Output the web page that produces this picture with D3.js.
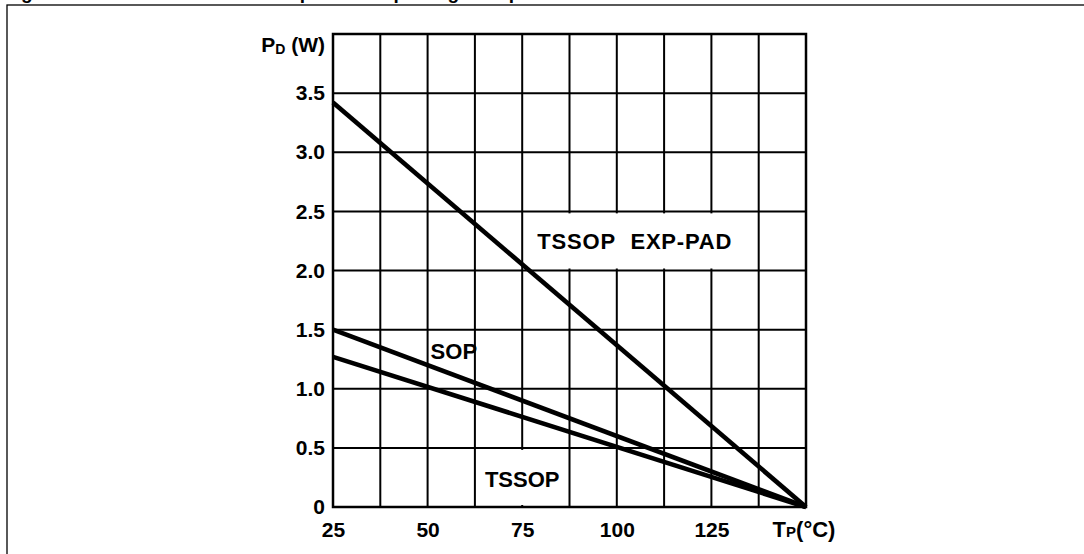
<!DOCTYPE html>
<html>
<head>
<meta charset="utf-8">
<script src="https://cdn.jsdelivr.net/npm/d3@7"></script>
<style>
  body { margin: 0; background: #fff; }
  svg { display: block; font-family: "Liberation Sans", Arial, sans-serif; font-weight: bold; }
</style>
</head>
<body>
<svg id="chart" width="1084" height="554"></svg>
<script>
// data
const tempC = [25, 150];
const expPadW = [3.42, 0];
const sopW = [1.5, 0];
const tssopW = [1.27, 0];
const xTicks = [25, 50, 75, 100, 125];
const yTicks = [0, 0.5, 1.0, 1.5, 2.0, 2.5, 3.0, 3.5];
const seriesNames = ['TSSOP EXP-PAD', 'SOP', 'TSSOP'];

const svg = d3.select('#chart');

const x = d3.scaleLinear().domain([25, 150]).range([333, 806]);
const y = d3.scaleLinear().domain([0, 4]).range([507, 34]);

// outer frame (runs off the right and bottom edge)
svg.append('rect')
    .attr('x', 7).attr('y', 5)
    .attr('width', 1100).attr('height', 600)
    .attr('fill', 'none')
    .attr('stroke', '#000')
    .attr('stroke-width', 1.3);

// cut-off title, only descenders show
svg.append('text')
    .attr('x', 4).attr('y', -1)
    .attr('font-size', 19)
    .text('Figure 6. Maximum allowed dissipation vs. package temperature');

// grid
const grid = svg.append('g');
d3.range(25, 150.1, 12.5).forEach(v => {
    grid.append('line')
        .attr('x1', x(v)).attr('x2', x(v))
        .attr('y1', y(0)).attr('y2', y(4))
        .attr('stroke', '#000').attr('stroke-width', 2);
});
d3.range(0, 4.01, 0.5).forEach(v => {
    grid.append('line')
        .attr('x1', x(25)).attr('x2', x(150))
        .attr('y1', y(v)).attr('y2', y(v))
        .attr('stroke', '#000').attr('stroke-width', 2);
});

const maskLayer = svg.append('g');

// plot border
svg.append('rect')
    .attr('x', x(25)).attr('y', y(4))
    .attr('width', x(150) - x(25)).attr('height', y(0) - y(4))
    .attr('fill', 'none')
    .attr('stroke', '#000').attr('stroke-width', 2.5);

// derating lines
const line = d3.line().x(d => x(d[0])).y(d => y(d[1]));
[expPadW, sopW, tssopW].forEach(vals => {
    svg.append('path')
        .datum(tempC.map((t, i) => [t, vals[i]]))
        .attr('d', line)
        .attr('fill', 'none')
        .attr('stroke', '#000')
        .attr('stroke-width', 4.6);
});

// axes
const xAxis = svg.append('g')
    .attr('transform', `translate(0,${y(0)})`)
    .call(d3.axisBottom(x).tickValues(xTicks).tickSize(0).tickPadding(15));
const yAxis = svg.append('g')
    .attr('transform', `translate(${x(25)},0)`)
    .call(d3.axisLeft(y).tickValues(yTicks).tickSize(0).tickPadding(8)
        .tickFormat(v => v === 0 ? '0' : d3.format('.1f')(v)));
[xAxis, yAxis].forEach(a => {
    a.select('.domain').remove();
    a.selectAll('text')
        .attr('font-size', 21)
        .attr('font-family', '"Liberation Sans", Arial, sans-serif')
        .attr('font-weight', 'bold')
        .attr('fill', '#000');
});

// axis titles
const yTitle = svg.append('text')
    .attr('x', x(25) - 8).attr('y', y(4) + 18)
    .attr('text-anchor', 'end')
    .attr('font-size', 21);
yTitle.append('tspan').text('P');
yTitle.append('tspan').attr('font-size', 14).attr('dy', 2).text('D');
yTitle.append('tspan').attr('dy', -2).text(' (W)');

const xTitle = svg.append('text')
    .attr('x', x(150) - 2).attr('y', y(0) + 30)
    .attr('text-anchor', 'middle')
    .attr('font-size', 22);
xTitle.append('tspan').text('T');
xTitle.append('tspan').attr('font-size', 15).text('P');
xTitle.append('tspan').text('(°C)');

// series labels, grid hidden behind the two boxed ones
function boxBehind(label, v0, v1) {
    const b = label.node().getBBox();
    maskLayer.append('rect')
        .attr('x', b.x - 4).attr('y', y(v1) + 2)
        .attr('width', b.width + 8).attr('height', y(v0) - y(v1) - 4)
        .attr('fill', '#fff');
}

const expLabel = svg.append('text')
    .attr('x', x(79)).attr('y', y(2.25) + 8)
    .attr('font-size', 22)
    .attr('letter-spacing', 0.8)
    .attr('word-spacing', 8)
    .text(seriesNames[0]);
boxBehind(expLabel, 2.0, 2.5);

svg.append('text')
    .attr('x', x(50) + 3).attr('y', y(1.5) + 29)
    .attr('font-size', 22)
    .text(seriesNames[1]);

const tssopLabel = svg.append('text')
    .attr('x', x(75)).attr('y', y(0.24) + 8)
    .attr('text-anchor', 'middle')
    .attr('font-size', 22)
    .text(seriesNames[2]);
boxBehind(tssopLabel, 0, 0.5);
</script>
</body>
</html>
